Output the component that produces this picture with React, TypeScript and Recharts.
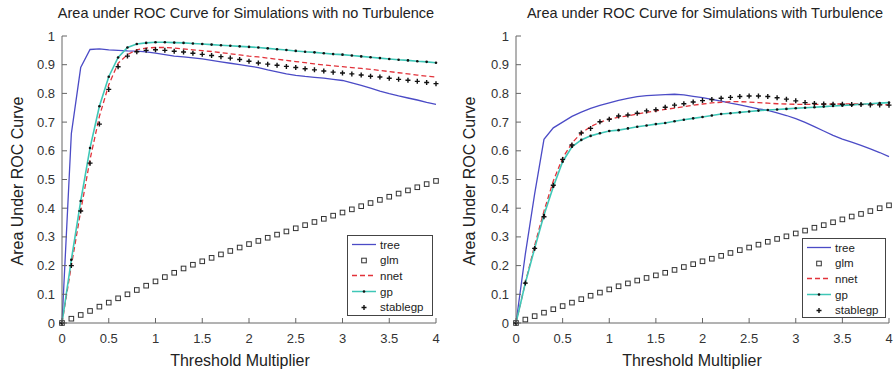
import React from "react"
import { Line, LineChart, XAxis, YAxis } from "recharts"

const thresholds = [
    0, 0.1, 0.2, 0.3, 0.4, 0.5, 0.6, 0.7, 0.8, 0.9, 1, 1.1, 1.2, 1.3, 1.4, 1.5, 1.6, 1.7, 1.8, 1.9, 2, 2.1, 2.2, 2.3,
    2.4, 2.5, 2.6, 2.7, 2.8, 2.9, 3, 3.1, 3.2, 3.3, 3.4, 3.5, 3.6, 3.7, 3.8, 3.9, 4,
]
const xTicks = [0, 0.5, 1, 1.5, 2, 2.5, 3, 3.5, 4]
const yTicks = [0, 0.1, 0.2, 0.3, 0.4, 0.5, 0.6, 0.7, 0.8, 0.9, 1]
const seriesNames = ["tree", "glm", "nnet", "gp", "stablegp"]

// no turbulence
const treeNoTurb = [
    0, 0.66, 0.89, 0.953, 0.955, 0.952, 0.95, 0.948, 0.947, 0.945, 0.94, 0.935, 0.93, 0.927, 0.924, 0.92, 0.915, 0.91,
    0.905, 0.9, 0.895, 0.89, 0.882, 0.875, 0.868, 0.863, 0.859, 0.856, 0.853, 0.849, 0.845, 0.837, 0.828, 0.818, 0.808,
    0.799, 0.791, 0.784, 0.777, 0.769, 0.762,
]
const glmNoTurb = [
    0, 0.015, 0.028, 0.042, 0.057, 0.071, 0.086, 0.1, 0.115, 0.13, 0.145, 0.16, 0.175, 0.19, 0.203, 0.215, 0.227, 0.239,
    0.251, 0.263, 0.275, 0.286, 0.297, 0.308, 0.319, 0.33, 0.341, 0.352, 0.363, 0.374, 0.385, 0.396, 0.407, 0.418, 0.429,
    0.44, 0.451, 0.462, 0.473, 0.484, 0.495,
]
const nnetNoTurb = [
    0, 0.2, 0.39, 0.57, 0.72, 0.83, 0.905, 0.935, 0.952, 0.958, 0.96, 0.96, 0.958, 0.955, 0.952, 0.949, 0.946, 0.942,
    0.938, 0.934, 0.93, 0.927, 0.923, 0.919, 0.915, 0.911, 0.907, 0.903, 0.899, 0.896, 0.893, 0.89, 0.887, 0.884, 0.88,
    0.876, 0.872, 0.868, 0.864, 0.86, 0.857,
]
const gpNoTurb = [
    0, 0.22, 0.425, 0.61, 0.755, 0.858, 0.925, 0.96, 0.972, 0.976, 0.978, 0.978, 0.977, 0.976, 0.974, 0.972, 0.97, 0.968,
    0.966, 0.964, 0.962, 0.96, 0.957, 0.954, 0.951, 0.948, 0.945, 0.943, 0.94, 0.937, 0.935, 0.932, 0.929, 0.926, 0.923,
    0.92, 0.917, 0.915, 0.912, 0.91, 0.907,
]
const stableNoTurb = [
    0, 0.2, 0.39, 0.557, 0.693, 0.814, 0.893, 0.93, 0.945, 0.95, 0.952, 0.95, 0.947, 0.944, 0.94, 0.936, 0.932, 0.928,
    0.923, 0.918, 0.912, 0.906, 0.902, 0.898, 0.894, 0.89, 0.886, 0.882, 0.878, 0.874, 0.871, 0.868, 0.864, 0.86, 0.857,
    0.853, 0.849, 0.846, 0.842, 0.838, 0.834,
]

// with turbulence
const treeTurb = [
    0, 0.24, 0.45, 0.64, 0.68, 0.7, 0.72, 0.735, 0.748, 0.758, 0.767, 0.776, 0.783, 0.789, 0.792, 0.794, 0.796, 0.797,
    0.795, 0.79, 0.785, 0.779, 0.773, 0.766, 0.76, 0.753, 0.746, 0.741, 0.732, 0.723, 0.712, 0.699, 0.684, 0.669, 0.654,
    0.641, 0.63, 0.619, 0.607, 0.594, 0.58,
]
const glmTurb = [
    0, 0.012, 0.024, 0.036, 0.048, 0.059, 0.071, 0.083, 0.095, 0.106, 0.117, 0.128, 0.138, 0.148, 0.157, 0.166, 0.175,
    0.185, 0.195, 0.205, 0.215, 0.224, 0.234, 0.244, 0.254, 0.263, 0.273, 0.283, 0.293, 0.302, 0.312, 0.322, 0.332, 0.341,
    0.351, 0.361, 0.371, 0.38, 0.39, 0.4, 0.41,
]
const nnetTurb = [
    0, 0.14, 0.27, 0.39, 0.495, 0.575, 0.627, 0.662, 0.684, 0.7, 0.71, 0.717, 0.722, 0.728, 0.734, 0.739, 0.744, 0.749,
    0.754, 0.759, 0.763, 0.767, 0.769, 0.771, 0.771, 0.77, 0.768, 0.766, 0.764, 0.763, 0.762, 0.762, 0.762, 0.762, 0.763,
    0.763, 0.763, 0.763, 0.762, 0.761, 0.76,
]
const gpTurb = [
    0, 0.139, 0.26, 0.376, 0.475, 0.562, 0.614, 0.638, 0.652, 0.661, 0.669, 0.672, 0.678, 0.684, 0.688, 0.693, 0.697,
    0.703, 0.708, 0.713, 0.718, 0.723, 0.728, 0.731, 0.734, 0.737, 0.74, 0.742, 0.744, 0.746, 0.748, 0.75, 0.752, 0.754,
    0.756, 0.758, 0.76, 0.762, 0.764, 0.766, 0.768,
]
const stableTurb = [
    0, 0.139, 0.26, 0.37, 0.48, 0.57, 0.62, 0.662, 0.678, 0.701, 0.71, 0.721, 0.725, 0.731, 0.739, 0.743, 0.752, 0.759,
    0.764, 0.77, 0.775, 0.779, 0.783, 0.786, 0.789, 0.791, 0.791, 0.789, 0.785, 0.78, 0.774, 0.768, 0.765, 0.763, 0.762,
    0.762, 0.761, 0.761, 0.76, 0.76, 0.759,
]

const FONT = "'Liberation Sans', Arial, sans-serif"
const AXIS = "#666"
const TREE = "#4b4bc6"
const NNET = "#e2323a"
const GP = "#3fc7b7"

function buildRows(tree: number[], glm: number[], nnet: number[], gp: number[], stable: number[]) {
    return thresholds.map((t, i) => ({ t, tree: tree[i], glm: glm[i], nnet: nnet[i], gp: gp[i], stablegp: stable[i] }))
}

const noTurbRows = buildRows(treeNoTurb, glmNoTurb, nnetNoTurb, gpNoTurb, stableNoTurb)
const turbRows = buildRows(treeTurb, glmTurb, nnetTurb, gpTurb, stableTurb)

const BottomTick = (p: any) => (
    <g>
        <line x1={p.x} y1={p.y} x2={p.x} y2={p.y - 5} stroke={AXIS} />
        <text x={p.x} y={p.y + 20} textAnchor="middle" fontSize={13} fill="#333" fontFamily={FONT}>
            {p.payload.value}
        </text>
    </g>
)
const TopTick = (p: any) => <line x1={p.x} y1={p.y} x2={p.x} y2={p.y + 5} stroke={AXIS} />
const LeftTick = (p: any) => (
    <g>
        <line x1={p.x} y1={p.y} x2={p.x + 5} y2={p.y} stroke={AXIS} />
        <text x={p.x - 7} y={p.y + 4.5} textAnchor="end" fontSize={13} fill="#333" fontFamily={FONT}>
            {p.payload.value}
        </text>
    </g>
)
const RightTick = (p: any) => <line x1={p.x} y1={p.y} x2={p.x - 5} y2={p.y} stroke={AXIS} />

const SquareDot = (p: any) => (
    <rect key={p.key} x={p.cx - 2.3} y={p.cy - 2.3} width={4.6} height={4.6} fill="#fff" stroke="#333" strokeWidth={1} />
)
const SmallDot = (p: any) => <circle key={p.key} cx={p.cx} cy={p.cy} r={1.3} fill="#111" />
const PlusDot = (p: any) => (
    <path key={p.key} d={`M${p.cx - 2.5},${p.cy}H${p.cx + 2.5}M${p.cx},${p.cy - 2.5}V${p.cy + 2.5}`} stroke="#111" strokeWidth={1.4} />
)

function LegendSample({ name }: { name: string }) {
    return (
        <svg width={26} height={15} style={{ display: "block" }}>
            {name === "tree" && <line x1={1} y1={7.5} x2={25} y2={7.5} stroke={TREE} strokeWidth={1.3} />}
            {name === "glm" && <rect x={10.7} y={5.2} width={4.6} height={4.6} fill="#fff" stroke="#333" />}
            {name === "nnet" && <line x1={1} y1={7.5} x2={25} y2={7.5} stroke={NNET} strokeWidth={1.3} strokeDasharray="5 3" />}
            {name === "gp" && (
                <g>
                    <line x1={1} y1={7.5} x2={25} y2={7.5} stroke={GP} strokeWidth={1.5} />
                    <circle cx={13} cy={7.5} r={1.3} fill="#111" />
                </g>
            )}
            {name === "stablegp" && <path d="M10.5,7.5H15.5M13,5V10" stroke="#111" strokeWidth={1.4} />}
        </svg>
    )
}

type PanelProps = {
    title: string
    rows: any[]
    left: number
    width: number
    yAxisWidth: number
    rightMargin: number
    titleX: number
    xLabelX: number
    yLabelX: number
    legend: { x: number; y: number; w: number; h: number }
}

function Panel(props: PanelProps) {
    const { rows, width, legend } = props
    return (
        <div style={{ position: "absolute", left: props.left, top: 0, width, height: 376, fontFamily: FONT }}>
            <LineChart width={width} height={376} data={rows} margin={{ top: 36, right: props.rightMargin, left: 0, bottom: 23 }}>
                <XAxis dataKey="t" type="number" domain={[0, 4]} ticks={xTicks} height={30} tickSize={0} tickMargin={0} tickLine={false} tick={BottomTick} axisLine={{ stroke: AXIS }} />
                <XAxis xAxisId="top" orientation="top" type="number" domain={[0, 4]} ticks={xTicks} height={0} tickSize={0} tickMargin={0} tickLine={false} tick={TopTick} axisLine={{ stroke: AXIS }} />
                <YAxis type="number" domain={[0, 1]} ticks={yTicks} width={props.yAxisWidth} tickSize={0} tickMargin={0} tickLine={false} tick={LeftTick} axisLine={{ stroke: AXIS }} />
                <YAxis yAxisId="right" orientation="right" type="number" domain={[0, 1]} ticks={yTicks} width={0} tickSize={0} tickMargin={0} tickLine={false} tick={RightTick} axisLine={{ stroke: AXIS }} />
                <Line dataKey="tree" type="linear" stroke={TREE} strokeWidth={1.3} dot={false} isAnimationActive={false} />
                <Line dataKey="glm" type="linear" stroke="none" dot={SquareDot} isAnimationActive={false} />
                <Line dataKey="nnet" type="linear" stroke={NNET} strokeWidth={1.3} strokeDasharray="5 3" dot={false} isAnimationActive={false} />
                <Line dataKey="gp" type="linear" stroke={GP} strokeWidth={1.6} dot={SmallDot} isAnimationActive={false} />
                <Line dataKey="stablegp" type="linear" stroke="none" dot={PlusDot} isAnimationActive={false} />
            </LineChart>
            <div style={{ position: "absolute", left: 0, top: 5, width: props.titleX * 2, textAlign: "center", fontSize: 14.5, color: "#222", whiteSpace: "nowrap" }}>
                {props.title}
            </div>
            <div style={{ position: "absolute", left: props.xLabelX - 100, top: 352, width: 200, textAlign: "center", fontSize: 16, color: "#222" }}>
                Threshold Multiplier
            </div>
            <div
                style={{
                    position: "absolute",
                    left: props.yLabelX - 100,
                    top: 172,
                    width: 200,
                    textAlign: "center",
                    fontSize: 16,
                    lineHeight: "18px",
                    color: "#222",
                    transform: "rotate(-90deg)",
                }}
            >
                Area Under ROC Curve
            </div>
            <div
                style={{
                    position: "absolute",
                    left: legend.x,
                    top: legend.y,
                    width: legend.w,
                    height: legend.h,
                    boxSizing: "border-box",
                    border: "1px solid #444",
                    background: "#fff",
                    padding: "1px 0 0 3px",
                }}
            >
                {seriesNames.map((name) => (
                    <div key={name} style={{ display: "flex", alignItems: "center", height: 15.6, fontSize: 11.5, color: "#222" }}>
                        <LegendSample name={name} />
                        <span style={{ marginLeft: 3 }}>{name}</span>
                    </div>
                ))}
            </div>
        </div>
    )
}

export default function App() {
    return (
        <div style={{ position: "absolute", left: 0, top: 0, width: 893, height: 376, background: "#fff" }}>
            <Panel
                title="Area under ROC Curve for Simulations with no Turbulence"
                rows={noTurbRows}
                left={0}
                width={446}
                yAxisWidth={62}
                rightMargin={10}
                titleX={246}
                xLabelX={240}
                yLabelX={18}
                legend={{ x: 347, y: 235, w: 86, h: 81 }}
            />
            <Panel
                title="Area under ROC Curve for Simulations with Turbulence"
                rows={turbRows}
                left={446}
                width={447}
                yAxisWidth={70}
                rightMargin={4}
                titleX={259}
                xLabelX={246}
                yLabelX={24}
                legend={{ x: 356, y: 238, w: 84, h: 80 }}
            />
        </div>
    )
}
